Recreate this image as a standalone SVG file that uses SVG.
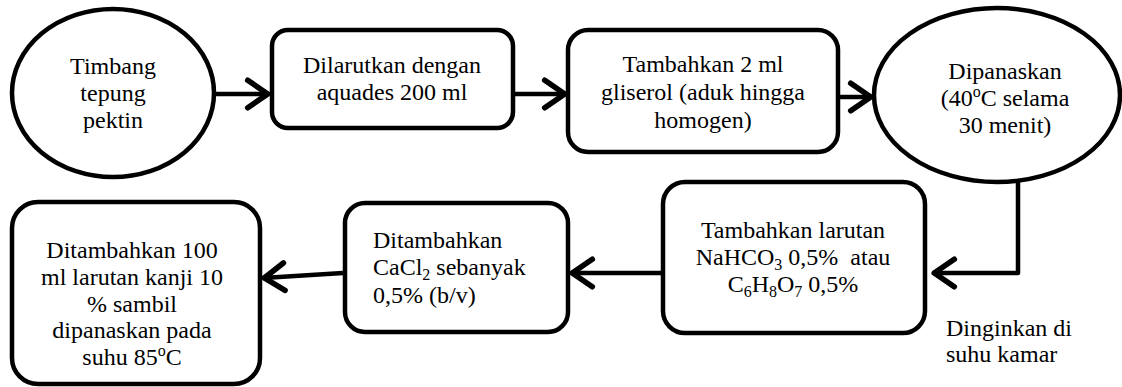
<svg xmlns="http://www.w3.org/2000/svg" width="1122" height="387" viewBox="0 0 1122 387">
<style>
.n{fill:#fff;stroke:#000;stroke-width:4.5}
.t{font-family:'Liberation Serif','Times New Roman',serif;font-size:24px;fill:#000}
.c{text-anchor:middle}
.sub{font-size:16px}
.e{fill:none;stroke:#000;stroke-width:4.5;stroke-linejoin:round}
</style>
<defs>
<marker id="ah" markerUnits="userSpaceOnUse" markerWidth="40" markerHeight="40" viewBox="-22 -16 26 32" refX="0" refY="0" orient="auto" overflow="visible">
<path d="M-17,-11 L-1,0 L-17,11" fill="none" stroke="#000" stroke-width="4.5" stroke-linecap="round" stroke-linejoin="round"/>
</marker>
</defs>
<rect width="1122" height="387" fill="#fff"/>
<g id="connectors">
<line class="e" x1="215" y1="94" x2="269" y2="94" marker-end="url(#ah)"/>
<line class="e" x1="513" y1="94" x2="566" y2="94" marker-end="url(#ah)"/>
<line class="e" x1="838" y1="97" x2="872" y2="97" marker-end="url(#ah)"/>
<polyline class="e" points="1018,180 1018,273 933,273" marker-end="url(#ah)"/>
<line class="e" x1="663" y1="273" x2="571" y2="273" marker-end="url(#ah)"/>
<line class="e" x1="343" y1="273" x2="263" y2="278" marker-end="url(#ah)"/>
</g>
<g id="n1">
<ellipse class="n" cx="113" cy="93" rx="101" ry="84"/>
<text class="t c" x="113" y="74">Timbang</text>
<text class="t c" x="113" y="101">tepung</text>
<text class="t c" x="113" y="128">pektin</text>
</g>
<g id="n2">
<rect class="n" x="272" y="30" width="241" height="98" rx="16"/>
<text class="t c" x="392" y="73">Dilarutkan dengan</text>
<text class="t c" x="392" y="100">aquades 200 ml</text>
</g>
<g id="n3">
<rect class="n" x="568" y="30" width="270" height="122" rx="20"/>
<text class="t c" x="703" y="72">Tambahkan 2 ml</text>
<text class="t c" x="703" y="100">gliserol (aduk hingga</text>
<text class="t c" x="703" y="128">homogen)</text>
</g>
<g id="n4">
<ellipse class="n" cx="997" cy="95" rx="123" ry="87"/>
<text class="t c" x="1005" y="79">Dipanaskan</text>
<text class="t c" x="1005" y="106">(40<tspan class="sub" dy="-9">o</tspan><tspan dy="9">C selama</tspan></text>
<text class="t c" x="1005" y="133">30 menit)</text>
</g>
<g id="n5">
<rect class="n" x="663" y="182" width="262" height="151" rx="22"/>
<text class="t c" x="793" y="238">Tambahkan larutan</text>
<text class="t c" x="793" y="265" xml:space="preserve" style="white-space:pre">NaHCO<tspan class="sub" dy="5">3</tspan><tspan dy="-5"> 0,5%  atau</tspan></text>
<text class="t c" x="793" y="292">C<tspan class="sub" dy="5">6</tspan><tspan dy="-5">H</tspan><tspan class="sub" dy="5">8</tspan><tspan dy="-5">O</tspan><tspan class="sub" dy="5">7</tspan><tspan dy="-5"> 0,5%</tspan></text>
</g>
<g id="n6">
<rect class="n" x="345" y="203" width="223" height="129" rx="20"/>
<text class="t" x="373" y="248">Ditambahkan</text>
<text class="t" x="373" y="275">CaCl<tspan class="sub" dy="5">2</tspan><tspan dy="-5"> sebanyak</tspan></text>
<text class="t" x="373" y="303">0,5% (b/v)</text>
</g>
<g id="n7">
<rect class="n" x="12" y="202" width="248" height="182" rx="26"/>
<text class="t c" x="132" y="258">Ditambahkan 100</text>
<text class="t c" x="132" y="285">ml larutan kanji 10</text>
<text class="t c" x="132" y="312">% sambil</text>
<text class="t c" x="132" y="338">dipanaskan pada</text>
<text class="t c" x="132" y="365">suhu 85<tspan class="sub" dy="-9">o</tspan><tspan dy="9">C</tspan></text>
</g>
<g id="label">
<text class="t" x="946" y="336">Dinginkan di</text>
<text class="t" x="946" y="362">suhu kamar</text>
</g>
</svg>
